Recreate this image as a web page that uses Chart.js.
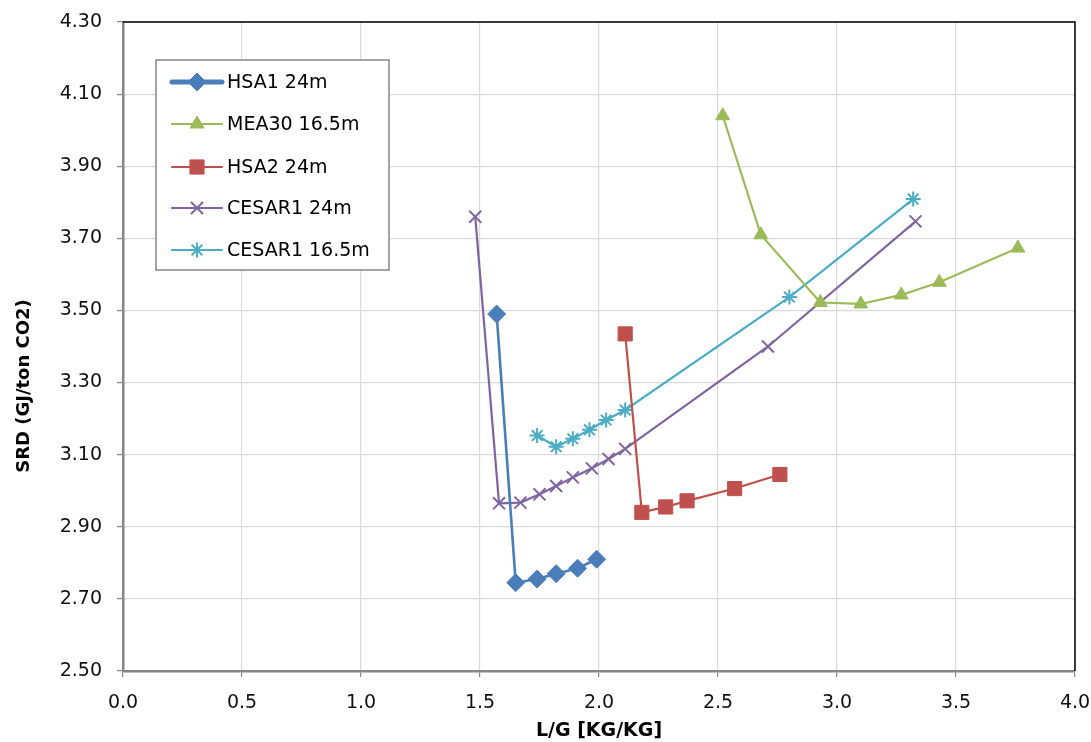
<!DOCTYPE html>
<html>
<head>
<meta charset="utf-8">
<script src="https://cdn.jsdelivr.net/npm/chart.js@4/dist/chart.umd.min.js"></script>
<style>
  html, body { margin: 0; padding: 0; background: #fff; }
  #wrap { width: 1091px; height: 742px; position: relative; }
</style>
</head>
<body>
<div id="wrap"><canvas id="c" width="1091" height="742"></canvas></div>
<script>
// ---- data ----
const seriesNames = ["HSA1 24m", "MEA30 16.5m", "HSA2 24m", "CESAR1 24m", "CESAR1 16.5m"];

const hsa1X = [1.57, 1.65, 1.74, 1.82, 1.91, 1.99];
const hsa1Y = [3.49, 2.745, 2.755, 2.77, 2.785, 2.81];

const mea30X = [2.52, 2.68, 2.93, 3.10, 3.27, 3.43, 3.76];
const mea30Y = [4.04, 3.71, 3.522, 3.518, 3.543, 3.578, 3.673];

const hsa2X = [2.11, 2.18, 2.28, 2.37, 2.57, 2.76];
const hsa2Y = [3.435, 2.94, 2.955, 2.972, 3.006, 3.045];

const cesar24X = [1.48, 1.58, 1.67, 1.75, 1.82, 1.89, 1.97, 2.04, 2.11, 2.71, 3.33];
const cesar24Y = [3.76, 2.965, 2.967, 2.99, 3.013, 3.037, 3.062, 3.088, 3.116, 3.40, 3.747];

const cesar165X = [1.74, 1.82, 1.89, 1.96, 2.03, 2.11, 2.80, 3.32];
const cesar165Y = [3.153, 3.122, 3.144, 3.169, 3.196, 3.224, 3.537, 3.809];

const xTicks = [0.0, 0.5, 1.0, 1.5, 2.0, 2.5, 3.0, 3.5, 4.0];
const yTicks = [2.50, 2.70, 2.90, 3.10, 3.30, 3.50, 3.70, 3.90, 4.10, 4.30];

const xTitle = "L/G [KG/KG]";
const yTitle = "SRD (GJ/ton CO2)";

// ---- helpers ----
function pts(xs, ys) { return xs.map((x, i) => ({ x: x, y: ys[i] })); }

const styles = [
  { color: "#4A7EBB", point: "rectRot", radius: 9, lineW: 2.6, legendW: 5, fill: true },
  { color: "#9BBB59", point: "triangle", radius: 8, lineW: 2.2, legendW: 2.2, fill: true },
  { color: "#C0504D", point: "rect", radius: 10, lineW: 2.2, legendW: 2.2, fill: true },
  { color: "#8064A2", point: "crossRot", radius: 8.5, lineW: 2.2, legendW: 2.2, fill: false },
  { color: "#4BACC6", point: "star", radius: 7.5, lineW: 2.2, legendW: 2.2, fill: false }
];
const seriesData = [pts(hsa1X, hsa1Y), pts(mea30X, mea30Y), pts(hsa2X, hsa2Y), pts(cesar24X, cesar24Y), pts(cesar165X, cesar165Y)];

const datasets = seriesNames.map((name, i) => ({
  label: name,
  data: seriesData[i],
  showLine: true,
  borderColor: styles[i].color,
  backgroundColor: styles[i].color,
  borderWidth: styles[i].lineW,
  pointStyle: styles[i].point,
  pointRadius: styles[i].radius,
  pointHoverRadius: styles[i].radius,
  pointBorderWidth: styles[i].fill ? 1 : 2,
  pointBorderColor: styles[i].color,
  pointBackgroundColor: styles[i].color,
  tension: 0,
  clip: false
}));

const FONT = "'DejaVu Sans', 'Liberation Sans', sans-serif";

const decorPlugin = {
  id: "decor",
  afterDraw(chart) {
    const ctx = chart.ctx;
    const a = chart.chartArea;
    ctx.save();
    // plot area black border on top and right
    ctx.strokeStyle = "#000";
    ctx.lineWidth = 1.5;
    ctx.beginPath();
    ctx.moveTo(a.left, a.top);
    ctx.lineTo(a.right, a.top);
    ctx.lineTo(a.right, a.bottom);
    ctx.stroke();

    // legend box
    const lx = 156, ly = 60, lw = 233, lh = 210;
    ctx.fillStyle = "#fff";
    ctx.fillRect(lx, ly, lw, lh);
    ctx.strokeStyle = "#868686";
    ctx.lineWidth = 1.5;
    ctx.strokeRect(lx, ly, lw, lh);
    const rowY = [82, 124, 167, 208, 250];
    seriesNames.forEach((name, i) => {
      const s = styles[i];
      const y = rowY[i];
      ctx.save();
      ctx.strokeStyle = s.color;
      ctx.fillStyle = s.color;
      ctx.lineWidth = s.legendW;
      ctx.lineCap = "round";
      ctx.beginPath();
      ctx.moveTo(172, y);
      ctx.lineTo(222, y);
      ctx.stroke();
      ctx.lineCap = "butt";
      ctx.lineWidth = s.fill ? 1 : 2;
      Chart.helpers.drawPoint(ctx, {
        pointStyle: s.point,
        radius: s.radius,
        rotation: 0,
        borderWidth: s.fill ? 1 : 2
      }, 197, y);
      ctx.restore();
      ctx.font = "19px " + FONT;
      ctx.textBaseline = "middle";
      ctx.textAlign = "left";
      ctx.fillStyle = "#000";
      ctx.fillText(name, 227, y + 1);
    });

    // axis titles
    ctx.fillStyle = "#000";
    ctx.font = "bold 19px " + FONT;
    ctx.textAlign = "center";
    ctx.textBaseline = "middle";
    ctx.fillText(xTitle, (a.left + a.right) / 2, 731);
    ctx.save();
    ctx.translate(24, 386);
    ctx.rotate(-Math.PI / 2);
    ctx.font = "bold 18px " + FONT;
    ctx.fillText(yTitle, 0, 0);
    ctx.restore();
    ctx.restore();
  }
};

function noScalePad(s) {
  s.paddingLeft = 0; s.paddingRight = 0; s.paddingTop = 0; s.paddingBottom = 0;
}

new Chart(document.getElementById("c"), {
  type: "scatter",
  data: { datasets: datasets },
  options: {
    responsive: false,
    animation: false,
    devicePixelRatio: 1,
    layout: { padding: { top: 22, right: 16, left: 0, bottom: 0 } },
    plugins: {
      legend: { display: false },
      tooltip: { enabled: false }
    },
    scales: {
      x: {
        type: "linear",
        min: 0, max: 4,
        afterBuildTicks: (s) => { s.ticks = xTicks.map(v => ({ value: v })); },
        afterFit: (s) => { s.height = 71; noScalePad(s); },
        ticks: {
          callback: (v) => Number(v).toFixed(1),
          font: { family: FONT, size: 19 },
          color: "#111",
          padding: 15,
          maxRotation: 0,
          autoSkip: false
        },
        grid: { color: "#D9D9D9", lineWidth: 1.2, tickLength: 6, tickColor: "#868686", drawTicks: true },
        border: { color: "#868686", width: 2.5 }
      },
      y: {
        type: "linear",
        min: 2.5, max: 4.3,
        afterBuildTicks: (s) => { s.ticks = yTicks.map(v => ({ value: v })); },
        afterFit: (s) => { s.width = 123; noScalePad(s); },
        ticks: {
          callback: (v) => Number(v).toFixed(2),
          font: { family: FONT, size: 19 },
          color: "#111",
          padding: 15,
          autoSkip: false
        },
        grid: { color: "#D9D9D9", lineWidth: 1.2, tickLength: 6, tickColor: "#868686", drawTicks: true },
        border: { color: "#868686", width: 2.5 }
      }
    }
  },
  plugins: [decorPlugin]
});
</script>
</body>
</html>
